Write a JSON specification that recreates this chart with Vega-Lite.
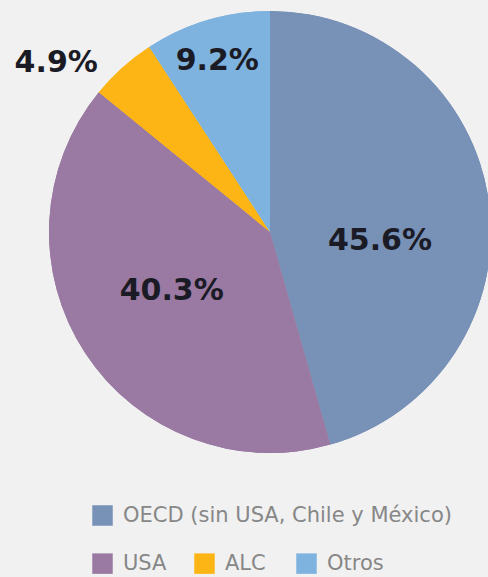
{
  "$schema": "https://vega.github.io/schema/vega-lite/v6.json",
  "autosize": {"type": "none"},
  "width": 436,
  "height": 464,
  "padding": {"left": 52, "top": 0, "right": 0, "bottom": 113},
  "background": "#f1f1f1",
  "config": {"view": {"stroke": null}, "font": "DejaVu Sans"},
  "data": {
    "values": [
      {"cat": "OECD (sin USA, Chile y México)", "value": 45.6, "label": "45.6%", "ord": 1},
      {"cat": "USA", "value": 40.3, "label": "40.3%", "ord": 2},
      {"cat": "ALC", "value": 4.9, "label": "4.9%", "ord": 3},
      {"cat": "Otros", "value": 9.2, "label": "9.2%", "ord": 4}
    ]
  },
  "encoding": {
    "theta": {"field": "value", "type": "quantitative", "stack": true},
    "order": {"field": "ord", "type": "quantitative"}
  },
  "layer": [
    {
      "mark": {"type": "arc", "outerRadius": 221},
      "encoding": {
        "fill": {
          "field": "cat", "type": "nominal",
          "scale": {"domain": ["USA", "ALC", "Otros", "OECD (sin USA, Chile y México)"], "range": ["#9a7aa2", "#fdb515", "#7fb3df", "#7891b6"]},
          "legend": {"values": ["USA", "ALC", "Otros"], "orient": "none", "direction": "horizontal", "gridAlign": "all", "legendX": 40, "legendY": 553, "title": null, "symbolType": "square", "symbolSize": 420, "symbolStrokeWidth": 0, "labelFontSize": 21, "labelColor": "#878787", "labelOffset": 10, "columnPadding": 14, "padding": 0, "labelLimit": 500}
        }
      }
    },
    {
      "mark": {"type": "arc", "outerRadius": 221},
      "encoding": {
        "color": {
          "field": "cat", "type": "nominal",
          "scale": {"domain": ["OECD (sin USA, Chile y México)", "USA", "ALC", "Otros"], "range": ["#7891b6", "#9a7aa2", "#fdb515", "#7fb3df"]},
          "legend": {"values": ["OECD (sin USA, Chile y México)"], "orient": "none", "legendX": 40, "legendY": 505, "title": null, "symbolType": "square", "symbolSize": 420, "symbolStrokeWidth": 0, "labelFontSize": 21, "labelColor": "#878787", "labelOffset": 10, "padding": 0, "labelLimit": 500}
        }
      }
    },
    {
      "mark": {"type": "text", "radius": 108, "dx": 3, "dy": 24, "fontSize": 30, "fontWeight": "bold", "color": "#1b1b26", "align": "center", "baseline": "middle"},
      "encoding": {"text": {"condition": {"test": "datum.ord === 1", "field": "label"}, "value": ""}}
    },
    {
      "mark": {"type": "text", "radius": 114, "dx": -3, "dy": -4, "fontSize": 30, "fontWeight": "bold", "color": "#1b1b26", "align": "center", "baseline": "middle"},
      "encoding": {"text": {"condition": {"test": "datum.ord === 2", "field": "label"}, "value": ""}}
    },
    {
      "mark": {"type": "text", "radius": 269, "dx": -34, "dy": 31, "fontSize": 30, "fontWeight": "bold", "color": "#1b1b26", "align": "center", "baseline": "middle"},
      "encoding": {"text": {"condition": {"test": "datum.ord === 3", "field": "label"}, "value": ""}}
    },
    {
      "mark": {"type": "text", "radius": 178, "dx": -2, "dy": 0, "fontSize": 30, "fontWeight": "bold", "color": "#1b1b26", "align": "center", "baseline": "middle"},
      "encoding": {"text": {"condition": {"test": "datum.ord === 4", "field": "label"}, "value": ""}}
    }
  ]
}
